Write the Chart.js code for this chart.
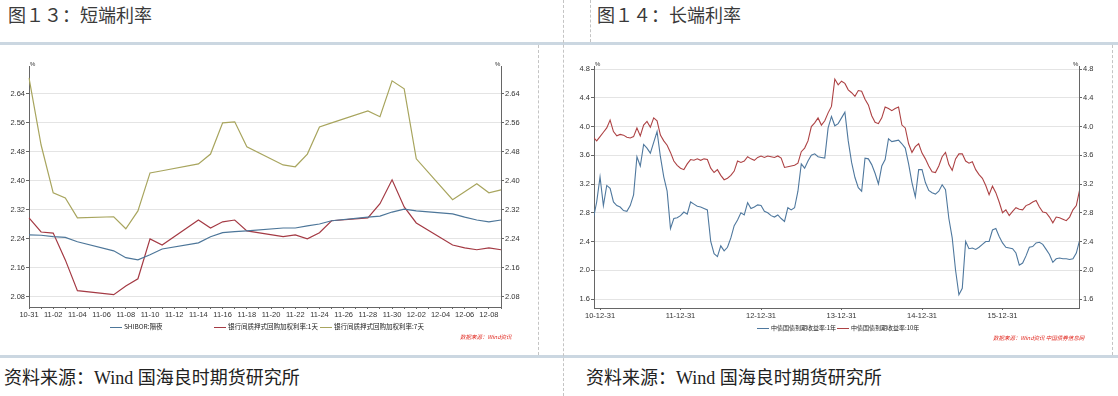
<!DOCTYPE html>
<html>
<head>
<meta charset="utf-8">
<script src="https://cdn.jsdelivr.net/npm/chart.js@4.4.1/dist/chart.umd.min.js"></script>
<style>
  body { margin: 0; width: 1118px; height: 396px; background: #fff; position: relative; overflow: hidden; font-family: "Noto Sans CJK SC", sans-serif; }
  .title { position: absolute; top: 4px; font-size: 18px; line-height: 20px; color: #3a3a3a; white-space: nowrap; }
  .source { position: absolute; top: 367px; font-size: 18px; line-height: 22px; color: #222; white-space: nowrap; font-family: "Liberation Serif", "Noto Sans CJK SC", serif; }
  .hbar { position: absolute; left: 0; width: 1118px; height: 3px; background: #cbd7e1; }
  .vdot { position: absolute; width: 0; border-left: 1px dashed #c4c4c4; }
  .legend { position: absolute; font-size: 6.5px; color: #222; white-space: nowrap; }
  .legend span.sw { display: inline-block; width: 12px; height: 0; border-top: 1px solid; vertical-align: middle; margin-right: 2px; }
  .legend span.item { position: absolute; top: 0; }
  .mark { position: absolute; font-size: 5.5px; color: #e0241b; font-style: italic; white-space: nowrap; }
  canvas { position: absolute; }
</style>
</head>
<body>
<div class="title" style="left:8px">图１３：短端利率</div>
<div class="title" style="left:597px">图１４：长端利率</div>
<div class="hbar" style="top:42px"></div>
<div class="hbar" style="top:355px"></div>
<div class="vdot" style="left:563px;top:0;height:396px"></div>
<div class="vdot" style="left:590px;top:0;height:42px"></div>
<div class="vdot" style="left:538px;top:45px;height:310px"></div>
<div class="vdot" style="left:1112px;top:45px;height:310px"></div>

<canvas id="shortChart" width="540" height="308" style="left:0;top:46px"></canvas>
<canvas id="longChart" width="545" height="308" style="left:565px;top:46px"></canvas>

<div class="legend" style="left:0;top:321px">
  <span class="item" style="left:110px"><span class="sw" style="border-color:#4d7699"></span>SHIBOR:隔夜</span>
  <span class="item" style="left:214px"><span class="sw" style="border-color:#a43a44"></span>银行间质押式回购加权利率:1天</span>
  <span class="item" style="left:320px"><span class="sw" style="border-color:#a8a55e"></span>银行间质押式回购加权利率:7天</span>
</div>
<div class="legend" style="left:0;top:323px;font-size:6px">
  <span class="item" style="left:757px"><span class="sw" style="border-color:#4f789e"></span>中债国债到期收益率:1年</span>
  <span class="item" style="left:837px"><span class="sw" style="border-color:#ad4244"></span>中债国债到期收益率:10年</span>
</div>
<div class="mark" style="left:460px;top:333px">数据来源：Wind资讯</div>
<div class="mark" style="left:993px;top:334px">数据来源：Wind资讯 中国债券信息网</div>

<div class="source" style="left:4px">资料来源：Wind 国海良时期货研究所</div>
<div class="source" style="left:586px">资料来源：Wind 国海良时期货研究所</div>

<script>
// short end: daily, 10-31 .. 12-09 (weekends left empty)
const shortDays = ['10-31',
  '11-01','11-02','11-03','11-04','11-05','11-06','11-07','11-08','11-09','11-10',
  '11-11','11-12','11-13','11-14','11-15','11-16','11-17','11-18','11-19','11-20',
  '11-21','11-22','11-23','11-24','11-25','11-26','11-27','11-28','11-29','11-30',
  '12-01','12-02','12-03','12-04','12-05','12-06','12-07','12-08','12-09'];
const shiborON = [2.251, 2.250, 2.246, 2.244, 2.232, null, null, 2.207, 2.188, 2.182,
  2.196, 2.212, null, null, 2.229, 2.246, 2.257, 2.260, 2.262, null,
  null, 2.270, 2.270, 2.276, 2.281, 2.290, null, null, 2.300, 2.303,
  2.314, 2.322, 2.317, null, null, 2.309, 2.300, 2.292, 2.287, 2.292];
const repo1d = [2.298, 2.259, 2.256, 2.182, 2.097, null, null, 2.086, 2.110, 2.130,
  2.240, 2.223, null, null, 2.292, 2.270, 2.287, 2.292, 2.262, null,
  null, 2.246, 2.251, 2.240, 2.257, 2.290, null, null, 2.298, 2.337,
  2.403, 2.328, 2.284, null, null, 2.223, 2.215, 2.210, 2.215, 2.210];
const repo7d = [2.684, 2.499, 2.367, 2.353, 2.298, null, null, 2.301, 2.268, 2.317,
  2.422, 2.428, null, null, 2.447, 2.474, 2.560, 2.563, 2.494, null,
  null, 2.444, 2.439, 2.474, 2.549, 2.560, null, null, 2.593, 2.577,
  2.676, 2.654, 2.461, null, null, 2.348, 2.370, 2.392, 2.367, 2.375];
const shortTicks = [2.08, 2.16, 2.24, 2.32, 2.40, 2.48, 2.56, 2.64];

// long end: half-month samples, months counted from 2010-12-31
const bond1y = [2.72, 2.95, 3.30, 2.90, 3.18, 3.14, 2.95, 2.90, 2.88, 2.83,
  2.82, 2.90, 3.05, 3.58, 3.45, 3.75, 3.70, 3.63, 3.78, 3.93,
  3.58, 3.30, 3.10, 2.58, 2.72, 2.73, 2.76, 2.81, 2.78, 2.95,
  2.92, 2.89, 2.88, 2.86, 2.84, 2.40, 2.23, 2.19, 2.34, 2.27,
  2.32, 2.45, 2.62, 2.70, 2.80, 2.77, 2.94, 2.86, 2.88, 2.91,
  2.90, 2.82, 2.80, 2.76, 2.74, 2.77, 2.72, 2.68, 2.87, 2.84,
  2.87, 3.10, 3.48, 3.42, 3.52, 3.60, 3.62, 3.58, 3.57, 3.56,
  3.98, 4.14, 4.01, 4.04, 4.12, 4.20, 3.80, 3.50, 3.29, 3.15,
  3.10, 3.56, 3.55, 3.47, 3.35, 3.20, 3.45, 3.54, 3.83, 3.79,
  3.80, 3.81, 3.76, 3.70, 3.48, 3.22, 3.02, 3.40, 3.40, 3.22,
  3.11, 3.08, 3.06, 3.10, 3.19, 3.12, 2.72, 2.45, 2.00, 1.66,
  1.75, 2.40, 2.30, 2.31, 2.29, 2.32, 2.36, 2.40, 2.40, 2.56,
  2.58, 2.47, 2.38, 2.32, 2.31, 2.30, 2.24, 2.07, 2.10, 2.20,
  2.32, 2.33, 2.38, 2.39, 2.36, 2.29, 2.22, 2.11, 2.16, 2.17,
  2.16, 2.16, 2.15, 2.16, 2.24, 2.42];
const bond10y = [3.85, 3.80, 3.86, 3.92, 3.98, 4.09, 3.93, 3.87, 3.89, 3.88,
  3.85, 3.84, 3.86, 3.98, 3.87, 4.02, 4.07, 3.99, 4.12, 4.08,
  3.88, 3.80, 3.74, 3.64, 3.52, 3.46, 3.42, 3.40, 3.48, 3.54,
  3.53, 3.55, 3.53, 3.55, 3.54, 3.42, 3.36, 3.40, 3.32, 3.26,
  3.28, 3.32, 3.38, 3.52, 3.50, 3.52, 3.58, 3.55, 3.53, 3.57,
  3.59, 3.57, 3.59, 3.58, 3.57, 3.59, 3.56, 3.43, 3.44, 3.45,
  3.46, 3.49, 3.65, 3.70, 3.80, 4.00, 4.05, 4.12, 4.02, 4.08,
  4.19, 4.28, 4.66, 4.58, 4.63, 4.60, 4.51, 4.47, 4.42, 4.50,
  4.49, 4.38, 4.30, 4.15, 4.06, 4.04, 4.12, 4.27, 4.25, 4.22,
  4.25, 4.27, 4.02, 3.98, 3.76, 3.64, 3.72, 3.76, 3.63, 3.55,
  3.45, 3.37, 3.36, 3.45, 3.58, 3.64, 3.47, 3.39, 3.55, 3.62,
  3.62, 3.52, 3.49, 3.51, 3.40, 3.33, 3.28, 3.18, 3.05, 3.17,
  3.08, 2.95, 2.80, 2.84, 2.76, 2.82, 2.87, 2.85, 2.84, 2.90,
  2.92, 2.95, 2.97, 2.88, 2.81, 2.80, 2.74, 2.66, 2.74, 2.73,
  2.71, 2.69, 2.74, 2.84, 2.90, 3.12];
const longStart = -1;      // first sample, months from 2010-12-31
const longStep = 0.5;      // half a month between samples
const yearEndTicks = [0, 12, 24, 36, 48, 60];
const yearEndLabels = ['10-12-31', '11-12-31', '12-12-31', '13-12-31', '14-12-31', '15-12-31'];
const longTicks = [1.6, 2.0, 2.4, 2.8, 3.2, 3.6, 4.0, 4.4, 4.8];

Chart.defaults.font.family = "'Liberation Sans', sans-serif";
Chart.defaults.font.size = 7.5;
Chart.defaults.color = '#333';
Chart.defaults.animation = false;

const axisColor = '#666';
const gridColor = '#e4e4e4';

// little "%" at the top of each value axis
const percentMark = {
    id: 'percentMark',
    afterDraw(chart) {
        const ctx = chart.ctx;
        const a = chart.chartArea;
        ctx.save();
        ctx.fillStyle = '#333';
        ctx.font = "6px 'Liberation Sans'";
        ctx.textBaseline = 'bottom';
        ctx.fillText('%', a.left + 1, a.top + 1);
        ctx.fillText('%', a.right - 6, a.top + 1);
        ctx.restore();
    }
};

function valueAxis(pos, tickList, min, max, width, digits) {
    return {
        type: 'linear',
        position: pos,
        min: min,
        max: max,
        afterBuildTicks: s => { s.ticks = tickList.map(v => ({ value: v })); },
        afterFit: s => { s.width = width; },
        ticks: { padding: 1, callback: v => v.toFixed(digits) },
        grid: { color: gridColor, drawOnChartArea: pos === 'left', tickColor: axisColor, tickLength: 3 },
        border: { display: true, color: axisColor, width: 1 }
    };
}

new Chart(document.getElementById('shortChart'), {
    type: 'line',
    data: {
        labels: shortDays,
        datasets: [
            { label: 'SHIBOR:隔夜', data: shiborON, borderColor: '#4d7699' },
            { label: '银行间质押式回购加权利率:1天', data: repo1d, borderColor: '#a43a44' },
            { label: '银行间质押式回购加权利率:7天', data: repo7d, borderColor: '#a8a55e' }
        ].map(d => Object.assign(d, { borderWidth: 1.2, pointRadius: 0, spanGaps: true, tension: 0, yAxisID: 'y' }))
    },
    options: {
        responsive: false,
        layout: { padding: { top: 20, left: 0, right: 0, bottom: 0 } },
        plugins: { legend: { display: false }, tooltip: { enabled: false } },
        scales: {
            x: {
                type: 'category',
                afterFit: s => { s.height = 47; },
                ticks: {
                    autoSkip: false, maxRotation: 0, padding: 1,
                    callback: (v, i) => (i % 2 === 0 ? shortDays[i] : '')
                },
                grid: { drawOnChartArea: false, tickColor: axisColor, tickLength: 2 },
                border: { display: true, color: axisColor, width: 1 }
            },
            y: valueAxis('left', shortTicks, 2.052, 2.717, 29, 2),
            y2: valueAxis('right', shortTicks, 2.052, 2.717, 39, 2)
        }
    },
    plugins: [percentMark]
});

new Chart(document.getElementById('longChart'), {
    type: 'line',
    data: {
        datasets: [
            { label: '中债国债到期收益率:1年', data: bond1y, borderColor: '#4f789e' },
            { label: '中债国债到期收益率:10年', data: bond10y, borderColor: '#ad4244' }
        ].map(d => Object.assign(d, {
            data: d.data.map((v, i) => ({ x: longStart + i * longStep, y: v })),
            borderWidth: 1.1, pointRadius: 0, tension: 0, yAxisID: 'y'
        }))
    },
    options: {
        responsive: false,
        layout: { padding: { top: 20, left: 0, right: 0, bottom: 0 } },
        plugins: { legend: { display: false }, tooltip: { enabled: false } },
        scales: {
            x: {
                type: 'linear',
                min: -0.9,
                max: 71.4,
                afterBuildTicks: s => { s.ticks = yearEndTicks.map(v => ({ value: v })); },
                afterFit: s => { s.height = 46; },
                ticks: { maxRotation: 0, padding: 1, callback: v => yearEndLabels[yearEndTicks.indexOf(v)] },
                grid: { drawOnChartArea: false, tickColor: axisColor, tickLength: 2 },
                border: { display: true, color: axisColor, width: 1 }
            },
            y: valueAxis('left', longTicks, 1.475, 4.842, 29, 1),
            y2: valueAxis('right', longTicks, 1.475, 4.842, 31, 1)
        }
    },
    plugins: [percentMark]
});
</script>
</body>
</html>
